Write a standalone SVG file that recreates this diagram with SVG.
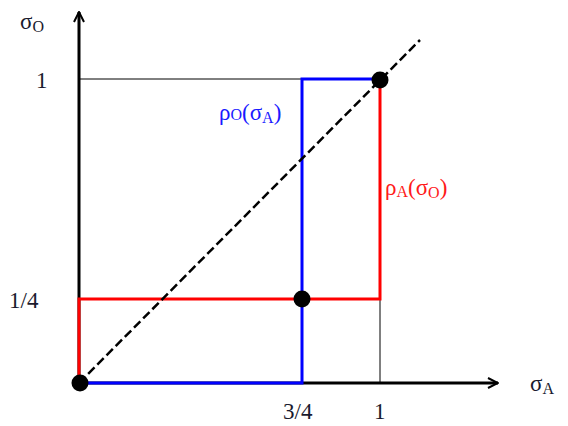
<svg xmlns="http://www.w3.org/2000/svg" width="568" height="426" viewBox="0 0 568 426">
<defs>
<marker id="arr" viewBox="0 0 12 12" refX="11" refY="6" markerWidth="12" markerHeight="12" markerUnits="userSpaceOnUse" orient="auto">
<path d="M1,1 L11,6 L1,11" fill="none" stroke="#000" stroke-width="2"/>
</marker>
<style>
text{font-family:"Liberation Serif","Times New Roman",serif;font-size:23px;fill:#1a1a2e}
.sub{font-size:16px}
.blue{fill:#1a1aff}
.red{fill:#ff1a1a}
.dot{fill:#000}
</style>
</defs>
<rect width="568" height="426" fill="#fff"/>
<g id="connectors">
<line x1="79" y1="384" x2="79" y2="12" stroke="#000" stroke-width="3" marker-end="url(#arr)"/>
<line x1="78" y1="383" x2="498" y2="383" stroke="#000" stroke-width="3" marker-end="url(#arr)"/>
<line x1="79" y1="79" x2="380" y2="79" stroke="#000" stroke-width="1"/>
<line x1="380" y1="299" x2="380" y2="383" stroke="#000" stroke-width="1"/>
<polyline points="79,383 302,383 302,79 380,79" fill="none" stroke="#0000ff" stroke-width="3"/>
<polyline points="79,383 79,299 380,299 380,79" fill="none" stroke="#ff0000" stroke-width="3"/>
<line x1="79" y1="383" x2="420" y2="40" stroke="#000" stroke-width="2.5" stroke-dasharray="9,4"/>
</g>
<g id="p00"><circle class="dot" cx="80" cy="383" r="8.5"/></g>
<g id="p11"><circle class="dot" cx="380" cy="80" r="8.5"/></g>
<g id="p34"><circle class="dot" cx="302" cy="299" r="8.5"/></g>
<g id="labels">
<text x="20" y="29">σ<tspan class="sub" dy="3">O</tspan></text>
<text x="36" y="88">1</text>
<text x="9" y="308">1/4</text>
<text x="283" y="419">3/4</text>
<text x="374" y="419">1</text>
<text x="530" y="391">σ<tspan class="sub" dy="3">A</tspan></text>
<text class="blue" x="219" y="120">ρ<tspan class="sub" dy="0">O</tspan>(σ<tspan class="sub" dy="3">A</tspan><tspan dy="-3">)</tspan></text>
<text class="red" x="385" y="195">ρ<tspan class="sub" dy="2">A</tspan><tspan dy="-2">(σ</tspan><tspan class="sub" dy="3">O</tspan><tspan dy="-3">)</tspan></text>
</g>
</svg>
